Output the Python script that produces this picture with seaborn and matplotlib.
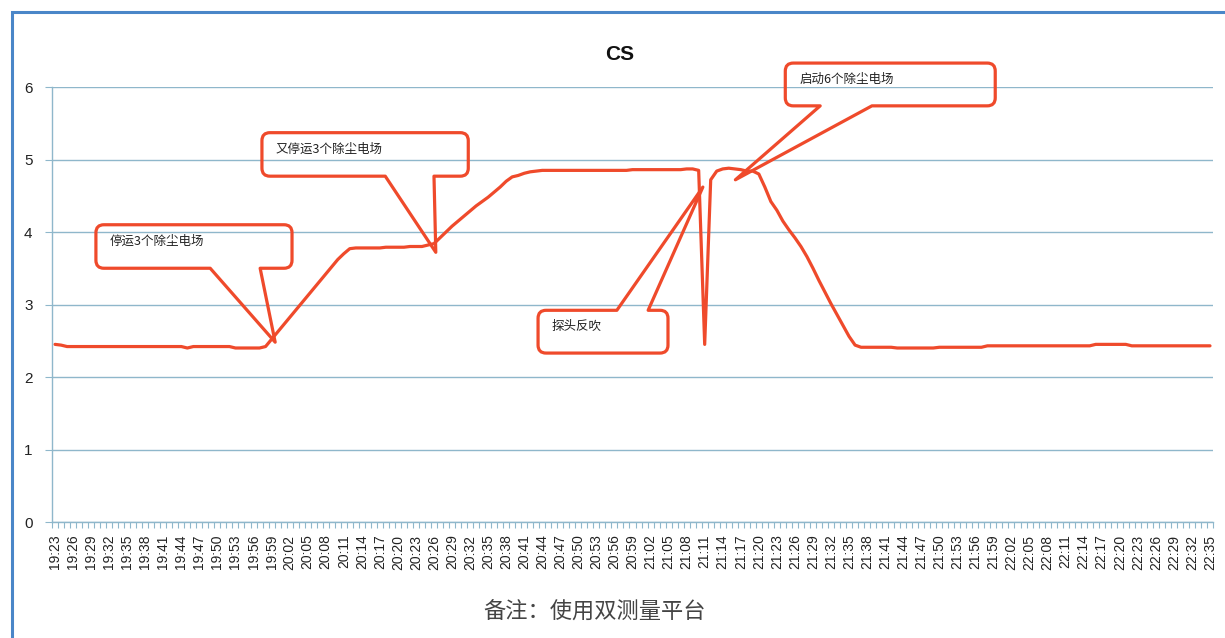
import numpy as np
import pandas as pd
import matplotlib
matplotlib.use("Agg")
import matplotlib.pyplot as plt
import seaborn as sns
from matplotlib.path import Path
from matplotlib.patches import PathPatch, Rectangle
from matplotlib.transforms import IdentityTransform

sns.set_theme(style="white")
plt.rcParams['font.family'] = ['Liberation Sans', 'Noto Sans CJK SC', 'DejaVu Sans']

# one reading per minute, 19:23 .. 22:35
minutes = pd.date_range("2020-01-01 19:23", "2020-01-01 22:35", freq="min").strftime("%H:%M").tolist()

cs = [
    2.45, 2.44, 2.42, 2.42, 2.42, 2.42, 2.42, 2.42, 2.42, 2.42,   # 19:23
    2.42, 2.42, 2.42, 2.42, 2.42, 2.42, 2.42, 2.42, 2.42, 2.42,   # 19:33
    2.42, 2.42, 2.40, 2.42, 2.42, 2.42, 2.42, 2.42, 2.42, 2.42,   # 19:43
    2.40, 2.40, 2.40, 2.40, 2.40, 2.42, 2.52, 2.62, 2.72, 2.82,   # 19:53
    2.92, 3.02, 3.12, 3.22, 3.32, 3.42, 3.52, 3.62, 3.70, 3.77,   # 20:03
    3.78, 3.78, 3.78, 3.78, 3.78, 3.79, 3.79, 3.79, 3.79, 3.80,   # 20:13
    3.80, 3.80, 3.82, 3.84, 3.92, 4.00, 4.08, 4.15, 4.22, 4.29,   # 20:23
    4.36, 4.42, 4.48, 4.55, 4.62, 4.70, 4.76, 4.78, 4.81, 4.83,   # 20:33
    4.84, 4.85, 4.85, 4.85, 4.85, 4.85, 4.85, 4.85, 4.85, 4.85,   # 20:43
    4.85, 4.85, 4.85, 4.85, 4.85, 4.85, 4.86, 4.86, 4.86, 4.86,   # 20:53
    4.86, 4.86, 4.86, 4.86, 4.86, 4.87, 4.87, 4.85, 2.45, 4.72,   # 21:03
    4.84, 4.87, 4.88, 4.87, 4.86, 4.84, 4.84, 4.80, 4.62, 4.42,   # 21:13
    4.30, 4.15, 4.03, 3.92, 3.80, 3.66, 3.50, 3.33, 3.17, 3.01,   # 21:23
    2.86, 2.71, 2.56, 2.44, 2.41, 2.41, 2.41, 2.41, 2.41, 2.41,   # 21:33
    2.40, 2.40, 2.40, 2.40, 2.40, 2.40, 2.40, 2.41, 2.41, 2.41,   # 21:43
    2.41, 2.41, 2.41, 2.41, 2.41, 2.43, 2.43, 2.43, 2.43, 2.43,   # 21:53
    2.43, 2.43, 2.43, 2.43, 2.43, 2.43, 2.43, 2.43, 2.43, 2.43,   # 22:03
    2.43, 2.43, 2.43, 2.45, 2.45, 2.45, 2.45, 2.45, 2.45, 2.43,   # 22:13
    2.43, 2.43, 2.43, 2.43, 2.43, 2.43, 2.43, 2.43, 2.43, 2.43,   # 22:23
    2.43, 2.43, 2.43,                                             # 22:33
]

yticks = [0, 1, 2, 3, 4, 5, 6]

# callouts: text, box (x0, x1, ybottom, ytop), wedge base x, side, tip (x, y)
callouts = [
    ("停运3个除尘电场", (6.8, 39.4, 3.50, 4.10), (25.8, 34.1), "bottom", (36.6, 2.48)),
    ("又停运3个除尘电场", (34.4, 68.7, 4.77, 5.37), (54.9, 63.0), "bottom", (63.3, 3.72)),
    ("探头反吹", (80.3, 101.9, 2.33, 2.92), (93.4, 98.6), "top", (107.7, 4.62)),
    ("启动6个除尘电场", (121.4, 156.3, 5.74, 6.33), (127.2, 135.8), "bottom", (113.1, 4.72)),
]

red = "#ef4a2b"
grid_c = "#8fb7cb"

df = pd.DataFrame({"t": np.arange(len(cs)), "cs": cs})

fig = plt.figure(figsize=(12.25, 6.38), dpi=100)
ax = fig.add_axes([52 / 1225, 1 - 522 / 638, 1161 / 1225, 435 / 638])

sns.lineplot(data=df, x="t", y="cs", ax=ax, color=red, linewidth=2.3,
             solid_joinstyle="round", solid_capstyle="round")

ax.set_xlim(-0.5, len(cs) - 0.5)
ax.set_ylim(0, 6)
ax.set_xlabel("")
ax.set_ylabel("")

ax.set_yticks(yticks)
ax.set_yticklabels([str(v) for v in yticks], fontsize=11, color="#222222")
ax.set_xticks(np.arange(0, len(cs), 3))
ax.set_xticklabels(minutes[::3], rotation=90, fontsize=10, color="#222222")
ax.set_xticks(np.arange(-0.5, len(cs), 1), minor=True)
ax.tick_params(axis="x", which="major", length=0, pad=9)
ax.tick_params(axis="x", which="minor", length=4, width=0.8, color=grid_c, bottom=True)
ax.tick_params(axis="y", which="major", length=5, width=0.8, color=grid_c, left=True, pad=9)

ax.yaxis.grid(True, color=grid_c, linewidth=1.0)
ax.xaxis.grid(False)
for s in ["top", "right"]:
    ax.spines[s].set_visible(False)
for s in ["left", "bottom"]:
    ax.spines[s].set_color(grid_c)
    ax.spines[s].set_linewidth(1.0)

fig.text(620 / 1225, 1 - 55 / 638, "CS", ha="center", va="center",
         fontsize=15, fontweight="bold", color="#111111")


def draw_callout(text, box, base, side, tip, r=8):
    x0, x1, yb, yt = box
    (L, B), (R, T) = ax.transData.transform([(x0, yb), (x1, yt)])
    tx, ty = ax.transData.transform(tip)
    b0 = ax.transData.transform((base[0], yb))[0]
    b1 = ax.transData.transform((base[1], yb))[0]
    verts = [(L + r, B)]
    codes = [Path.MOVETO]
    if side == "bottom":
        verts += [(b0, B), (tx, ty), (b1, B)]
        codes += [Path.LINETO] * 3
    verts += [(R - r, B), (R, B), (R, B + r), (R, T - r), (R, T), (R - r, T)]
    codes += [Path.LINETO, Path.CURVE3, Path.CURVE3, Path.LINETO, Path.CURVE3, Path.CURVE3]
    if side == "top":
        verts += [(b1, T), (tx, ty), (b0, T)]
        codes += [Path.LINETO] * 3
    verts += [(L + r, T), (L, T), (L, T - r), (L, B + r), (L, B), (L + r, B), (L + r, B)]
    codes += [Path.LINETO, Path.CURVE3, Path.CURVE3, Path.LINETO, Path.CURVE3, Path.CURVE3,
              Path.CLOSEPOLY]
    patch = PathPatch(Path(verts, codes), facecolor="none", edgecolor=red, linewidth=2.3,
                      joinstyle="round", transform=IdentityTransform(), clip_on=False)
    fig.add_artist(patch)
    ax.annotate(text, xy=(x0, yt), xycoords="data", xytext=(10, -12),
                textcoords="offset points", ha="left", va="center", fontsize=9,
                color="#222222", family=["Noto Sans CJK SC", "DejaVu Sans"],
                annotation_clip=False)


for c in callouts:
    draw_callout(*c)

fig.text(595 / 1225, 1 - 612 / 638, "备注：使用双测量平台", ha="center", va="center",
         fontsize=16, color="#444444", family=["Noto Sans CJK SC", "DejaVu Sans"])

# blue frame around the chart area (only left and top edges are visible)
fig.add_artist(Rectangle((12 / 1225, -0.2), 1.3, 1.2 - 12 / 638, transform=fig.transFigure,
                         fill=False, edgecolor="#4a86c8", linewidth=2.2))

fig.savefig("out.png", dpi=100)
